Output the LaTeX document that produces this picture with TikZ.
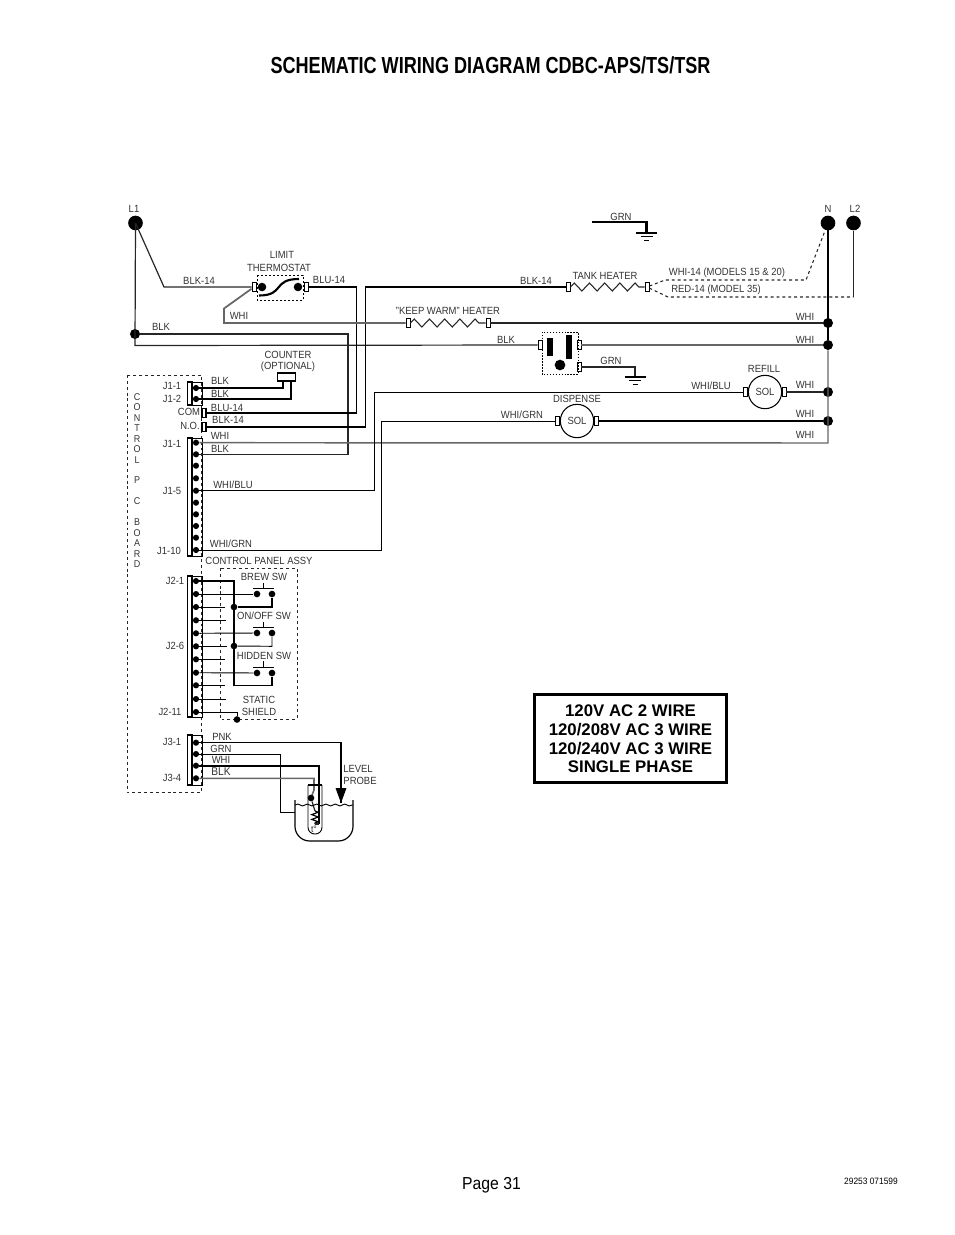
\documentclass[tikz,border=0pt]{standalone}
\usepackage{fontspec}
\setmainfont{Liberation Sans}[FakeStretch=0.91]
\newfontfamily\titlefont{Liberation Sans Bold}[FakeStretch=0.78]
\newfontfamily\boxfont{Liberation Sans Bold}
\usetikzlibrary{arrows.meta,calc,decorations.pathmorphing}

\begin{document}
\begin{tikzpicture}[align=center,x=0.75pt,y=-0.75pt]
\tikzstyle{lbl}=[inner sep=0pt,font=\fontsize{7.8}{9}\selectfont,text=black!80]
\tikzstyle{term}=[circle,fill=black,minimum size=11pt,inner sep=0pt]
\tikzstyle{jct}=[circle,fill=black,minimum size=7.5pt,inner sep=0pt]
\tikzstyle{pinpt}=[circle,fill=black,minimum size=4.6pt,inner sep=0pt]
\tikzstyle{lug}=[rectangle,draw=black,fill=white,line width=0.7pt,minimum width=3pt,minimum height=6.6pt,inner sep=0pt]
\tikzstyle{sol}=[circle,draw=black,line width=0.8pt,minimum size=25pt,inner sep=0pt,font=\fontsize{7.8}{9}\selectfont,text=black!80]
\tikzstyle{wire}=[line width=0.9pt,black!85]
\tikzstyle{thinwire}=[line width=0.7pt,black]
\tikzstyle{heavy}=[line width=1.6pt,black]
\tikzstyle{greywire}=[line width=1.3pt,black!60]
\tikzstyle{dashline}=[line width=0.6pt,black!85,dash pattern=on 2.2pt off 2.2pt]
\tikzstyle{dotline}=[line width=0.7pt,black,dash pattern=on 1.1pt off 1.1pt]
\tikzstyle{coil}=[line width=0.8pt,black!85,decorate,decoration={zigzag,segment length=11.4pt,amplitude=3pt}]

\useasboundingbox (0,0) rectangle (954,1235);

\node[inner sep=0pt] (title) at (490.5,65) {\titlefont\fontsize{17.4}{19}\selectfont SCHEMATIC WIRING DIAGRAM CDBC-APS/TS/TSR};
\node[inner sep=0pt] (page) at (491.5,1185) {\fontsize{13}{16}\selectfont Page 31};
\node[inner sep=0pt,font=\fontsize{6.9}{8}\selectfont] (docno) at (871,1181) {29253 071599};

% supply terminals
\node[term] (l1) at (135.5,223) {};
\node[term] (n) at (828,223) {};
\node[term] (l2) at (853.5,223) {};
\node[lbl] (l1txt) at (134,209) {L1};
\node[lbl] (ntxt) at (828,209) {N};
\node[lbl] (l2txt) at (855,209) {L2};

% junctions
\node[jct] (l1dot) at (135,334) {};
\node[jct] (n1) at (828,323) {};
\node[jct] (n2) at (828,345) {};
\node[jct] (n3) at (828,392) {};
\node[jct] (n4) at (828,421) {};
\coordinate (n5) at (828,443);
\coordinate (l1low) at (135,345.5);

% limit thermostat
\node[lug] (limita) at (254,287) {};
\node[lug] (limitb) at (306,287) {};
\node[circle,fill=black,minimum size=6.4pt,inner sep=0pt] (limitc) at (262,287) {};
\node[circle,fill=black,minimum size=6.4pt,inner sep=0pt] (limitd) at (298,287) {};
\draw[dotline,dash pattern=on 1.6pt off 1.4pt] (257,275) rectangle (303,300);
\draw[heavy] (259,295.5) .. controls (285,295.5) and (272,279) .. (299,279);
\node[lbl] (limittxt) at (282,255) {LIMIT};
\node[lbl] (thermtxt) at (279,268) {THERMOSTAT};

% heaters
\node[lug] (tanka) at (568,287) {};
\node[lug] (tankb) at (647,287) {};
\node[lug] (warma) at (408,323) {};
\node[lug] (warmb) at (488,323) {};
\draw[coil] (tanka) -- (tankb);
\draw[coil] (warma) -- (warmb);
\node[lbl] (tanktxt) at (605,276) {TANK HEATER};
\node[lbl] (warmtxt) at (448,311) {"KEEP WARM" HEATER};

% outlet
\node[lug] (outa) at (540,345) {};
\node[lug] (outb) at (579,345) {};
\node[lug] (outc) at (579,367) {};
\draw[dotline] (542,332) rectangle (578,374);
\fill (547,338) rectangle (553,356);
\fill (566,335) rectangle (572,359);
\node[circle,fill=black,minimum size=8pt,inner sep=0pt] (outd) at (560,365) {};

% solenoids
\node[sol] (refill) at (765,392) {SOL};
\node[lug] (refilla) at (745,392) {};
\node[lug] (refillb) at (784,392) {};
\node[sol] (disp) at (577,421) {SOL};
\node[lug] (dispa) at (557,421) {};
\node[lug] (dispb) at (596.5,421) {};
\node[lbl] (refilltxt) at (764,369) {REFILL};
\node[lbl] (disptxt) at (577,399) {DISPENSE};

% control board
\draw[dashline] (127,375) rectangle (201.5,792);
\node[lbl,font=\fontsize{7.4}{7.83}\selectfont] (boardtxt) at (137,480.5) {C\\O\\N\\T\\R\\O\\L\\ \\P\\ \\C\\ \\B\\O\\A\\R\\D};
\foreach \ya/\yb in {382/405,438/556,576/717,735/785}
{
\draw[line width=0.6pt] (192,\ya) rectangle (202,\yb);
\draw[line width=1pt,fill=white] (187.5,\ya) rectangle (192,\yb);
}
\foreach \n/\y in {1/388,2/399}
  \node[pinpt] (ja\n) at (196,\y) {};
\foreach \n/\y in {1/442.7,2/454.3,3/465.7,4/478.3,5/490.7,6/502.7,7/514.3,8/526,9/537.7,10/550}
  \node[pinpt] (jb\n) at (196,\y) {};
\foreach \n/\y in {1/581,2/594,3/607,4/620.3,5/633.3,6/646.3,7/659.3,8/672.7,9/685.3,10/699,11/712}
  \node[pinpt] (jc\n) at (196,\y) {};
\foreach \n/\y in {1/742.7,2/754,3/765.7,4/778.3}
  \node[pinpt] (jd\n) at (196,\y) {};
\node[lug,line width=1pt] (com) at (204,413) {};
\node[lug,line width=1pt] (no) at (204,427) {};
\node[lbl] (ja1txt) at (172,386) {J1-1};
\node[lbl] (ja2txt) at (172,399) {J1-2};
\node[lbl] (comtxt) at (189,412) {COM};
\node[lbl] (notxt) at (190,426) {N.O.};
\node[lbl] (jb1txt) at (172,444) {J1-1};
\node[lbl] (jb5txt) at (172,491) {J1-5};
\node[lbl] (jb10txt) at (169,551) {J1-10};
\node[lbl] (jc1txt) at (175,581) {J2-1};
\node[lbl] (jc6txt) at (175,646) {J2-6};
\node[lbl] (jc11txt) at (170,712) {J2-11};
\node[lbl] (jd1txt) at (172,742) {J3-1};
\node[lbl] (jd4txt) at (172,778) {J3-4};

% counter
\node[rectangle,draw=black,line width=0.9pt,minimum width=13.6pt,minimum height=6pt,inner sep=0pt] (count) at (286.5,377) {};
\node[lbl] (counttxt) at (288,355) {COUNTER};
\node[lbl] (opttxt) at (288,367) {(OPTIONAL)};
\coordinate (counta) at (283,381);
\coordinate (countb) at (291,381);

% panel
\draw[dashline] (220,568) rectangle (297,719);
\node[jct,minimum size=5pt] (brewa) at (257,594) {};
\node[jct,minimum size=5pt] (brewb) at (272,594) {};
\node[jct,minimum size=5pt] (onoffa) at (257,633) {};
\node[jct,minimum size=5pt] (onoffb) at (272,633) {};
\node[jct,minimum size=5pt] (hidea) at (257,673) {};
\node[jct,minimum size=5pt] (hideb) at (272,673) {};
\node[jct,minimum size=5pt] (comma) at (234,607) {};
\node[jct,minimum size=5pt] (commb) at (234,646) {};
\node[jct,minimum size=5pt] (shield) at (237,719.5) {};
\draw[thinwire] (253,588) -- (274,588) (263.5,588) -- (263.5,583);
\draw[thinwire] (253,627.7) -- (274,627.7) (263.5,627.7) -- (263.5,622);
\draw[heavy,line width=1.1pt] (253,667.7) -- (274,667.7) (263.5,667.7) -- (263.5,661);
\node[lbl] (brewtxt) at (264,577) {BREW SW};
\node[lbl] (onofftxt) at (264,616) {ON/OFF SW};
\node[lbl] (hidetxt) at (264,656) {HIDDEN SW};
\node[lbl] (statictxt) at (259,700) {STATIC};
\node[lbl] (shieldtxt) at (259,712) {SHIELD};
\node[lbl] (paneltxt) at (259,561) {CONTROL PANEL ASSY};

% mains wiring
\draw[wire] (l1.center) -- (l1low) -- (outa);
\draw[wire] (l1.center) -- (164,287) -- (limita);
\draw[wire] (l1dot) -- (348,334) |- (jb2);
\draw[heavy,line width=1.1pt] (limitb) -- (356.5,287) |- (com);
\draw[heavy,line width=1.3pt] (tanka) -- (365.5,287) |- (no);
\draw[greywire] (limita) -- (224,308.5) -- (224,323) -- (warma);
\draw[wire] (warmb) -- (n1);
\draw[line width=1pt,black] (n.center) -- (n2);
\draw[greywire,line width=1.1pt] (n2) -- (n5) -- (jb1);
\draw[greywire,line width=1.6pt] (outb) -- (n2);
\draw[thinwire] (jb5) -- (374,490.7) |- (refilla);
\draw[thinwire] (jb10) -- (381.5,550) |- (dispa);
\draw[wire] (refillb) -- (n3);
\draw[heavy] (dispb) -- (n4);
\draw[dashline,line width=0.8pt] (tankb) -- (665,280) -- (806,280) -- (n);
\draw[dashline,line width=0.8pt] (tankb) -- (668,297) -- (853.5,297);
\draw[wire] (853.5,297) -- (l2);

% grounds
\coordinate (gndtop) at (646.5,233);
\coordinate (gndlow) at (635,377);
\draw[heavy] (592,222) -- (646.5,222) -- (gndtop);
\node[lbl] (grntop) at (621,217) {GRN};
\draw[wire] (outc) -- (635,367) -- (gndlow);
\foreach \g in {gndtop,gndlow}
{
\draw[line width=0.9pt] ($(\g)+(-10.5,0)$) -- ($(\g)+(10.5,0)$);
\draw[line width=0.7pt] ($(\g)+(-6,3.5)$) -- ($(\g)+(6,3.5)$);
\draw[line width=0.7pt] ($(\g)+(-2.5,7)$) -- ($(\g)+(2.5,7)$);
}

% board wiring
\draw[heavy,line width=1.1pt] (ja1) -- (283,388) -- (counta);
\draw[heavy,line width=1.1pt] (ja2) -- (291,399) -- (countb);
\draw[heavy,line width=1pt] (jc1) -- (234,581) -- (234,685.3) -- (272,685.3) -- (hideb);
\draw[thinwire] (jc2) -- (brewa);
\draw[heavy] (brewb) -- (272,607) -- (comma);
\draw[thinwire] (jc5) -- (onoffa);
\draw[thinwire] (onoffb) -- (272,646.3) -- (commb);
\draw[thinwire] (jc8) -- (hidea);
\draw[thinwire] (jc11) -- (237,712) -- (shield);
\foreach \n/\x in {3/225,4/226,6/227,9/225,10/226}
{
\coordinate (stub\n) at (\x,0);
\draw[thinwire] (jc\n) -- (jc\n -| stub\n);
}
\coordinate (stub7) at (225,659.3);
\draw[heavy,line width=1.2pt] (jc7) -- (stub7);

% probe
\coordinate (probetip) at (341,803);
\coordinate (tubedot) at (311,798);
\draw[line width=0.9pt,black] (jd1) -- (341,742.7) -- (probetip);
\fill (341,803) -- (335.5,788) -- (346.5,788) -- cycle;
\draw[thinwire] (jd2) -- (280,754) -- (280,812) -- (294.5,812);
\draw[heavy,line width=1.3pt] (jd3) -- (319,765.7) -- (319,824);
\draw[greywire,line width=1.2pt] (jd4) -- (314,778.3) -- (314,790) -- (tubedot);
\node[jct,minimum size=5pt] (probedot) at (tubedot) {};
\draw[line width=0.9pt] (308,785) -- (322,785);
\draw[thinwire,rounded corners=5pt] (308,785) -- (308,834) -- (322,834) -- (322,785);
\draw[wire] (probedot) -- (315,811);
\draw[line width=0.9pt,decorate,decoration={zigzag,segment length=3.6pt,amplitude=2.4pt}] (315,811) -- (315,824);
\draw[wire] (315,824) -- (319,824);
\draw[line width=0.9pt,rounded corners=11pt] (295,800) -- (295,841) -- (353,841) -- (353,800);
\draw[line width=0.7pt,decorate,decoration={snake,segment length=7pt,amplitude=0.7pt}] (295,805) -- (353,805);
\node[lbl,font=\fontsize{7}{8}\selectfont] (ttxt) at (314,829) {t\textdegree};
\node[lbl] (leveltxt) at (358,769) {LEVEL};
\node[lbl] (probetxt) at (360,781) {PROBE};

% wire labels
\node[lbl] (w1) at (199,281) {BLK-14};
\node[lbl] (w2) at (329,280) {BLU-14};
\node[lbl] (w3) at (239,316) {WHI};
\node[lbl] (w4) at (161,327) {BLK};
\node[lbl] (w5) at (536,281) {BLK-14};
\node[lbl] (w6) at (727,273) {WHI-14 (MODELS 15 \& 20)};
\node[lbl] (w7) at (716,290) {RED-14 (MODEL 35)};
\node[lbl] (w8) at (805,317) {WHI};
\node[lbl] (w9) at (805,340) {WHI};
\node[lbl] (w10) at (805,385) {WHI};
\node[lbl] (w11) at (805,414) {WHI};
\node[lbl] (w12) at (805,435) {WHI};
\node[lbl] (w13) at (506,340) {BLK};
\node[lbl] (w14) at (611,361) {GRN};
\node[lbl] (w15) at (711,386) {WHI/BLU};
\node[lbl] (w16) at (522,415) {WHI/GRN};
\node[lbl] (w17) at (220,381) {BLK};
\node[lbl] (w18) at (220,394) {BLK};
\node[lbl] (w19) at (227,408) {BLU-14};
\node[lbl] (w20) at (228,420) {BLK-14};
\node[lbl] (w21) at (220,436) {WHI};
\node[lbl] (w22) at (220,449) {BLK};
\node[lbl] (w23) at (233,485) {WHI/BLU};
\node[lbl] (w24) at (231,544) {WHI/GRN};
\node[lbl] (w25) at (222,737) {PNK};
\node[lbl] (w26) at (221,749) {GRN};
\node[lbl] (w27) at (221,760) {WHI};
\node[lbl,font=\fontsize{8.4}{9}\selectfont] (w28) at (221,772) {BLK};

% supply box
\node[rectangle,draw=black,line width=2.3pt,minimum width=144.5pt,minimum height=65.5pt,inner sep=0pt] (supply) at (630.5,738.5) {};
\node[inner sep=0pt,font=\boxfont\fontsize{12.6}{13.9}\selectfont] (supplytxt) at (630.5,739) {120V AC 2 WIRE\\120/208V AC 3 WIRE\\120/240V AC 3 WIRE\\SINGLE PHASE};
\end{tikzpicture}
\end{document}
